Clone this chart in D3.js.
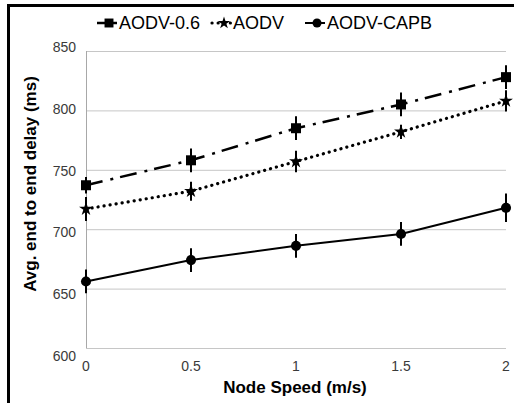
<!DOCTYPE html>
<html>
<head>
<meta charset="utf-8">
<script src="https://cdn.jsdelivr.net/npm/d3@7"></script>
<style>
  body { margin: 0; background: #fff; }
  text { font-family: Arial, "Liberation Sans", sans-serif; }
</style>
</head>
<body>
<script>
var speeds = [0, 0.5, 1, 1.5, 2];
var xTicks = [0, 0.5, 1, 1.5, 2];
var yTicks = [600, 650, 700, 750, 800, 850];

var aodv06 = [737, 758, 785, 805, 828];
var aodv06Err = [7, 10, 10, 10, 10];
var aodv = [717, 732, 757, 782, 808];
var aodvErr = [10, 8, 9, 6, 9];
var capb = [656, 674, 686, 696, 718];
var capbErr = [10, 10, 10, 10, 12];

var seriesNames = ["AODV-0.6", "AODV", "AODV-CAPB"];

var width = 514, height = 403;

var svg = d3.select("body").append("svg")
    .attr("width", width)
    .attr("height", height);

// frame (only top and left show in the picture)
svg.append("rect")
    .attr("x", 8.5).attr("y", 5.5)
    .attr("width", 600).attr("height", 500)
    .attr("fill", "none")
    .attr("stroke", "#000")
    .attr("stroke-width", 3);

var x = d3.scaleLinear().domain([0, 2]).range([86, 506]);
var y = d3.scaleLinear().domain([600, 850]).range([348, 51]);
// the tick labels sit slightly off the grid lines in the original
var yLab = d3.scaleLinear().domain([600, 850]).range([356, 47]);

// grid
svg.append("g").selectAll("line").data(yTicks).enter().append("line")
    .attr("x1", x(0)).attr("x2", x(2))
    .attr("y1", function(d){ return y(d) + 0.5; })
    .attr("y2", function(d){ return y(d) + 0.5; })
    .attr("stroke", "#c6c6c6")
    .attr("stroke-width", 1);

svg.append("line")
    .attr("x1", x(0) + 0.5).attr("x2", x(0) + 0.5)
    .attr("y1", y(850)).attr("y2", y(600))
    .attr("stroke", "#a8a8a8");

// tick labels
svg.append("g").selectAll("text").data(yTicks).enter().append("text")
    .attr("x", 76)
    .attr("y", function(d){ return yLab(d); })
    .attr("dy", "0.36em")
    .attr("text-anchor", "end")
    .attr("font-size", 14)
    .attr("fill", "#3a3a3a")
    .text(function(d){ return d; });

svg.append("g").selectAll("text").data(xTicks).enter().append("text")
    .attr("x", function(d){ return x(d); })
    .attr("y", 371)
    .attr("text-anchor", "middle")
    .attr("font-size", 14)
    .attr("fill", "#3a3a3a")
    .text(function(d){ return d; });

// axis titles
svg.append("text")
    .attr("x", 295).attr("y", 393)
    .attr("text-anchor", "middle")
    .attr("font-size", 17)
    .attr("font-weight", "bold")
    .text("Node Speed (m/s)");

svg.append("text")
    .attr("transform", "translate(36,184) rotate(-90)")
    .attr("text-anchor", "middle")
    .attr("font-size", 17)
    .attr("font-weight", "bold")
    .text("Avg. end to end delay (ms)");

var series = [
  { name: seriesNames[0], vals: aodv06, err: aodv06Err, dash: "17,8,3,7", sw: 2.5, cap: "butt", sym: d3.symbolSquare, size: 100 },
  { name: seriesNames[1], vals: aodv, err: aodvErr, dash: "0.1,6", sw: 3.2, cap: "round", sym: d3.symbolStar, size: 60 },
  { name: seriesNames[2], vals: capb, err: capbErr, dash: null, sw: 2, cap: "butt", sym: d3.symbolCircle, size: 80 }
];

var line = d3.line()
    .x(function(d){ return x(d[0]); })
    .y(function(d){ return y(d[1]); });

series.forEach(function(s){
  var pts = speeds.map(function(v, i){ return [v, s.vals[i], s.err[i]]; });

  svg.append("path")
      .datum(pts)
      .attr("d", line)
      .attr("fill", "none")
      .attr("stroke", "#000")
      .attr("stroke-width", s.sw)
      .attr("stroke-linecap", s.cap)
      .attr("stroke-dasharray", s.dash);

  svg.append("g").selectAll("line").data(pts).enter().append("line")
      .attr("x1", function(d){ return x(d[0]); })
      .attr("x2", function(d){ return x(d[0]); })
      .attr("y1", function(d){ return y(d[1] - d[2]); })
      .attr("y2", function(d){ return y(d[1] + d[2]); })
      .attr("stroke", "#000")
      .attr("stroke-width", 2);

  svg.append("g").selectAll("path").data(pts).enter().append("path")
      .attr("transform", function(d){ return "translate(" + x(d[0]) + "," + y(d[1]) + ")"; })
      .attr("d", d3.symbol().type(s.sym).size(s.size))
      .attr("fill", "#000");
});

// legend
var legendX = [97, 212, 305];
var leg = svg.append("g").selectAll("g").data(series).enter().append("g")
    .attr("transform", function(d, i){ return "translate(" + legendX[i] + ",23)"; });

leg.append("line")
    .attr("x1", 0).attr("x2", 20)
    .attr("y1", 0).attr("y2", 0)
    .attr("stroke", "#000")
    .attr("stroke-width", function(d){ return d.sw; })
    .attr("stroke-linecap", function(d){ return d.cap; })
    .attr("stroke-dasharray", function(d){ return d.dash ? (d.cap === "round" ? "0.1,6" : null) : null; });

leg.append("path")
    .attr("transform", "translate(12,0)")
    .attr("d", function(d){ return d3.symbol().type(d.sym).size(d.size * 0.8)(); })
    .attr("fill", "#000");

leg.append("text")
    .attr("x", function(d, i){ return i === 1 ? 21 : 22; })
    .attr("y", 0)
    .attr("dy", "0.36em")
    .attr("font-size", 18)
    .text(function(d){ return d.name; });
</script>
</body>
</html>
